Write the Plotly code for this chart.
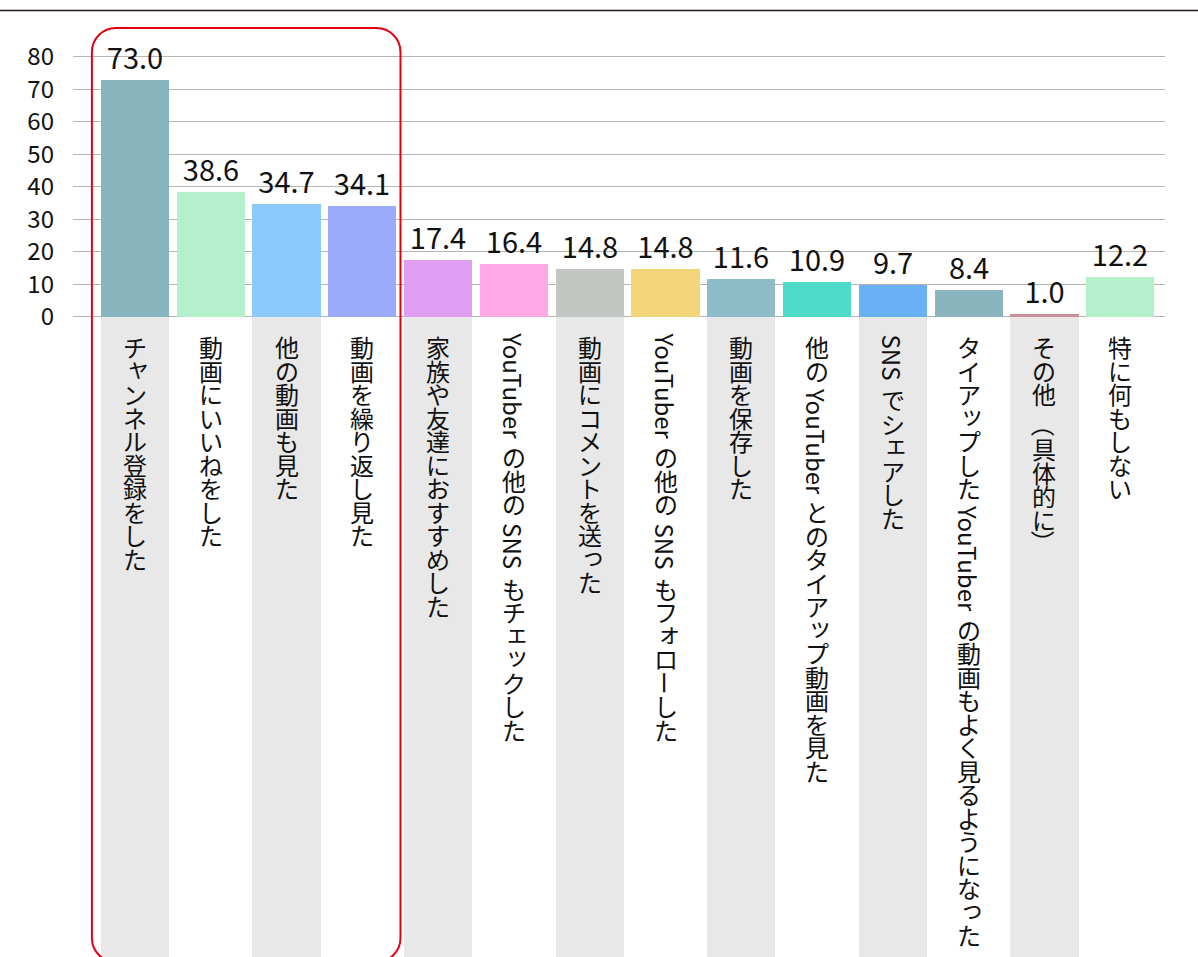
import plotly.graph_objects as go

# ---------------- data ----------------
categories = [
    "チャンネル登録をした",
    "動画にいいねをした",
    "他の動画も見た",
    "動画を繰り返し見た",
    "家族や友達におすすめした",
    "YouTuber の他の SNS もチェックした",
    "動画にコメントを送った",
    "YouTuber の他の SNS もフォローした",
    "動画を保存した",
    "他の YouTuber とのタイアップ動画を見た",
    "SNS でシェアした",
    "タイアップした YouTuber の動画もよく見るようになった",
    "その他 （具体的に）",
    "特に何もしない",
]
values = [73.0, 38.6, 34.7, 34.1, 17.4, 16.4, 14.8, 14.8, 11.6, 10.9, 9.7, 8.4, 1.0, 12.2]
bar_colors = [
    "#88b4bd", "#b4f0cb", "#8ccafc", "#9aabfc", "#e09ef2", "#fca9e6", "#c2c7c3",
    "#f3d679", "#8fbcc9", "#4edbc9", "#69b0f4", "#8ab4be", "#c98e9c", "#b4f0cb",
]
tick_vals = [0, 10, 20, 30, 40, 50, 60, 70, 80]
highlight_first, highlight_last = 0, 3

# ---------------- geometry ----------------
W, H = 1198, 957
ML, MR, MT, MB = 73, 33, 15, 0
PW, PH = W - ML - MR, H - MT - MB
X_RANGE = [-0.818, 13.59]
Y_RANGE = [-196.9, 92.9]
PPU_X = PW / (X_RANGE[1] - X_RANGE[0])
PPU_Y = PH / (Y_RANGE[1] - Y_RANGE[0])
FONT = "Noto Sans CJK JP"
BAR_W = 0.9


def px_to_x(px):
    return X_RANGE[0] + (px - ML) / PPU_X


def x_to_px(x):
    return ML + (x - X_RANGE[0]) * PPU_X


def py_to_y(py):
    return Y_RANGE[1] - (py - MT) / PPU_Y


n = len(categories)
xs = list(range(n))
bg_vals = [Y_RANGE[0] - 5 if i % 2 == 0 else None for i in range(n)]

fig = go.Figure()
fig.add_trace(go.Bar(
    x=xs, y=bg_vals, base=0, width=BAR_W, marker=dict(color="#e8e8e8", line=dict(width=0)),
    hoverinfo="skip", showlegend=False,
))
fig.add_trace(go.Bar(
    x=xs, y=values, width=BAR_W,
    marker=dict(color=bar_colors, line=dict(width=0)),
    text=[f"{v:.1f}" for v in values], textposition="outside",
    textfont=dict(family=FONT, size=29, color="#111111"),
    constraintext="none", cliponaxis=False, showlegend=False,
))

# ---------------- vertical category labels ----------------
CJK_SIZE = 24
LAT_SIZE = 24
PITCH = 23.5
SPACE = 8
START_PY = 335
lat_w = {"Y": .52, "o": .56, "u": .55, "T": .50, "b": .56, "e": .50, "r": .35,
         "S": .53, "N": .64}
small_kana = set("ャュョッァィゥェォゃゅょっぁぃぅぇぉ")
rotated = set("ー（）")


def tokenize(s):
    out = []
    i = 0
    while i < len(s):
        c = s[i]
        if c == " ":
            out.append(("space", c))
            i += 1
        elif c.isascii():
            j = i
            while j < len(s) and s[j].isascii() and s[j] != " ":
                j += 1
            out.append(("latin", s[i:j]))
            i = j
        else:
            out.append(("cjk", c))
            i += 1
    return out


annotations = []
for i, label in enumerate(categories):
    pos = START_PY
    for kind, t in tokenize(label):
        if kind == "space":
            pos += SPACE
            continue
        if kind == "latin":
            adv = sum(lat_w.get(ch, 0.55) for ch in t) * LAT_SIZE + 4
            annotations.append(dict(
                x=i, y=py_to_y(pos + adv / 2), xref="x", yref="y", text=t,
                textangle=90, showarrow=False, xanchor="center", yanchor="middle",
                font=dict(family=FONT, size=LAT_SIZE, color="#111111"),
            ))
        else:
            adv = PITCH
            a = dict(
                x=i, y=py_to_y(pos + adv / 2), xref="x", yref="y", text=t,
                showarrow=False, xanchor="center", yanchor="middle",
                font=dict(family=FONT, size=CJK_SIZE, color="#111111"),
            )
            if t in rotated:
                a["textangle"] = 90
            if t in small_kana:
                a["xshift"] = 3
                a["yshift"] = 4
            annotations.append(a)
        pos += adv

# ---------------- highlight box ----------------
Lp = x_to_px(highlight_first - BAR_W / 2) - 9
Rp = x_to_px(highlight_last + BAR_W / 2) + 4
T, B = 28, 962
r = 24
k = 0.5523 * r


def P(px, py):
    return f"{px_to_x(px):.5f},{py_to_y(py):.5f}"


path = (
    f"M {P(Lp + r, T)} L {P(Rp - r, T)} "
    f"C {P(Rp - r + k, T)} {P(Rp, T + r - k)} {P(Rp, T + r)} "
    f"L {P(Rp, B - r)} "
    f"C {P(Rp, B - r + k)} {P(Rp - r + k, B)} {P(Rp - r, B)} "
    f"L {P(Lp + r, B)} "
    f"C {P(Lp + r - k, B)} {P(Lp, B - r + k)} {P(Lp, B - r)} "
    f"L {P(Lp, T + r)} "
    f"C {P(Lp, T + r - k)} {P(Lp + r - k, T)} {P(Lp + r, T)} Z"
)

shapes = [
    dict(type="path", xref="x", yref="y", path=path,
         line=dict(color="#e60012", width=2), fillcolor="rgba(0,0,0,0)", layer="above"),
    dict(type="line", xref="paper", yref="paper",
         x0=-ML / PW, x1=(W - ML) / PW, y0=(H - 10.5) / PH, y1=(H - 10.5) / PH,
         line=dict(color="#231815", width=1.6)),
]

fig.update_layout(
    width=W, height=H,
    margin=dict(l=ML, r=MR, t=MT, b=MB, pad=0),
    paper_bgcolor="white", plot_bgcolor="white",
    barmode="overlay", bargap=0,
    showlegend=False,
    annotations=annotations,
    shapes=shapes,
    font=dict(family=FONT, color="#111111"),
    xaxis=dict(range=X_RANGE, showticklabels=False, showgrid=False, zeroline=False,
               showline=False, ticks="", fixedrange=True),
    yaxis=dict(range=Y_RANGE, tickvals=tick_vals, ticktext=[str(v) for v in tick_vals],
               showgrid=True, gridcolor="#b5b5b5", gridwidth=1, zeroline=False,
               showline=False, ticks="", ticklabelstandoff=18,
               tickfont=dict(family=FONT, size=24, color="#111111"), fixedrange=True),
)

fig.write_html(
    "out.html",
    config={"displayModeBar": False},
    post_script="document.body.style.margin='0';document.body.style.padding='0';"
                "document.body.style.overflow='hidden';",
)
